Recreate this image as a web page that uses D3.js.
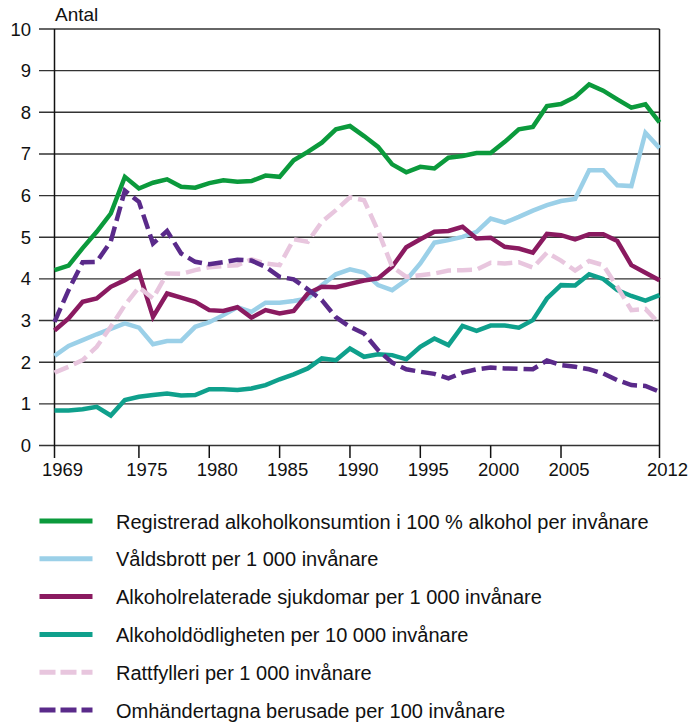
<!DOCTYPE html>
<html>
<head>
<meta charset="utf-8">
<script src="https://cdn.jsdelivr.net/npm/d3@7"></script>
<style>
  body { margin: 0; background: #fff; }
  text { font-family: "Liberation Sans", Arial, Helvetica, sans-serif; fill: #111; }
</style>
</head>
<body>
<script>
// years 1969-2012
var years = d3.range(1969, 2013);

// Registrerad alkoholkonsumtion i 100 % alkohol per invånare
var konsumtion = [4.21, 4.32, 4.74, 5.13, 5.57, 6.45, 6.17, 6.31, 6.39, 6.21, 6.19, 6.30, 6.37, 6.33,
  6.35, 6.48, 6.45, 6.85, 7.05, 7.27, 7.59, 7.67, 7.43, 7.17, 6.75, 6.56, 6.69, 6.65, 6.91, 6.95,
  7.02, 7.02, 7.29, 7.59, 7.65, 8.15, 8.20, 8.37, 8.67, 8.52, 8.31, 8.11, 8.19, 7.76];
// Våldsbrott per 1 000 invånare
var valdsbrott = [2.15, 2.39, 2.53, 2.67, 2.80, 2.93, 2.83, 2.43, 2.51, 2.51, 2.85, 2.96, 3.13, 3.32,
  3.21, 3.43, 3.43, 3.47, 3.53, 3.85, 4.11, 4.23, 4.15, 3.85, 3.73, 3.97, 4.37, 4.87, 4.93, 5.01,
  5.13, 5.45, 5.35, 5.49, 5.64, 5.77, 5.87, 5.92, 6.61, 6.61, 6.25, 6.23, 7.51, 7.14];
// Alkoholrelaterade sjukdomar per 1 000 invånare
var sjukdomar = [2.76, 3.05, 3.45, 3.53, 3.81, 3.97, 4.17, 3.09, 3.65, 3.55, 3.45, 3.25, 3.23, 3.32,
  3.07, 3.25, 3.17, 3.23, 3.65, 3.81, 3.80, 3.88, 3.96, 4.01, 4.29, 4.76, 4.95, 5.13, 5.15, 5.25,
  4.97, 4.99, 4.77, 4.73, 4.63, 5.08, 5.05, 4.95, 5.07, 5.07, 4.91, 4.33, 4.15, 3.97];
// Alkoholdödligheten per 10 000 invånare
var dodlighet = [0.84, 0.84, 0.87, 0.93, 0.72, 1.09, 1.17, 1.21, 1.25, 1.20, 1.21, 1.35, 1.35, 1.33,
  1.37, 1.45, 1.59, 1.71, 1.85, 2.09, 2.05, 2.33, 2.13, 2.19, 2.17, 2.07, 2.37, 2.57, 2.41, 2.87,
  2.75, 2.88, 2.88, 2.83, 3.01, 3.53, 3.85, 3.84, 4.11, 4.00, 3.73, 3.59, 3.48, 3.61];
// Rattfylleri per 1 000 invånare
var rattfylleri = [1.75, 1.89, 2.05, 2.37, 2.85, 3.37, 3.80, 3.53, 4.13, 4.12, 4.21, 4.28, 4.31, 4.33,
  4.47, 4.37, 4.33, 4.95, 4.89, 5.37, 5.65, 5.96, 5.89, 5.15, 4.29, 4.05, 4.09, 4.13, 4.20, 4.21,
  4.22, 4.39, 4.37, 4.40, 4.27, 4.63, 4.44, 4.20, 4.43, 4.33, 3.81, 3.25, 3.28, 2.92];
// Omhändertagna berusade per 100 invånare
var omhandertagna = [2.97, 3.73, 4.40, 4.41, 4.90, 6.12, 5.85, 4.85, 5.15, 4.61, 4.41, 4.35, 4.40, 4.46,
  4.44, 4.29, 4.05, 3.99, 3.75, 3.49, 3.08, 2.85, 2.69, 2.29, 1.99, 1.83, 1.77, 1.72, 1.61, 1.75,
  1.83, 1.87, 1.85, 1.84, 1.83, 2.04, 1.93, 1.89, 1.83, 1.73, 1.57, 1.45, 1.43, 1.29];

var xTicks = [1969, 1975, 1980, 1985, 1990, 1995, 2000, 2005, 2012];
var yTicks = [0, 1, 2, 3, 4, 5, 6, 7, 8, 9, 10];

var seriesNames = ["Registrerad alkoholkonsumtion i 100 % alkohol per invånare",
  "Våldsbrott per 1 000 invånare",
  "Alkoholrelaterade sjukdomar per 1 000 invånare",
  "Alkoholdödligheten per 10 000 invånare",
  "Rattfylleri per 1 000 invånare",
  "Omhändertagna berusade per 100 invånare"];
var seriesValues = [konsumtion, valdsbrott, sjukdomar, dodlighet, rattfylleri, omhandertagna];
var seriesColors = ["#0b9a3c", "#9bd0e8", "#8a1a60", "#0fa08c", "#e8c6de", "#5a2a8a"];
var seriesDashed = [false, false, false, false, true, true];

var w = 691, h = 725;
var svg = d3.select("body").append("svg")
  .attr("width", w)
  .attr("height", h);

var x = d3.scaleLinear().domain([1969, 2012]).range([54.5, 659.5]);
var y = d3.scaleLinear().domain([0, 10]).range([445.5, 29]);

// grid lines + y ticks
svg.append("g").selectAll("line")
  .data(yTicks)
  .enter().append("line")
  .attr("x1", 39)
  .attr("x2", x(2012))
  .attr("y1", function(d){ return y(d); })
  .attr("y2", function(d){ return y(d); })
  .style("stroke", "#333")
  .style("stroke-width", 1.4);

svg.append("g").selectAll("text")
  .data(yTicks)
  .enter().append("text")
  .attr("x", 31)
  .attr("y", function(d){ return y(d) + 6.5; })
  .attr("text-anchor", "end")
  .style("font-size", "18.5px")
  .text(function(d){ return d; });

svg.append("text")
  .attr("x", 55)
  .attr("y", 21)
  .style("font-size", "19px")
  .text("Antal");

// x ticks (the axis ends double as ticks)
svg.append("g").selectAll("line")
  .data(xTicks)
  .enter().append("line")
  .attr("x1", function(d){ return x(d); })
  .attr("x2", function(d){ return x(d); })
  .attr("y1", function(d){ return (d === 1969 || d === 2012) ? y(10) : y(0); })
  .attr("y2", 458)
  .style("stroke", "#111")
  .style("stroke-width", 1.5);

svg.append("g").selectAll("text")
  .data(xTicks)
  .enter().append("text")
  .attr("x", function(d){ return x(d) + 8; })
  .attr("y", 476)
  .attr("text-anchor", "middle")
  .style("font-size", "18.5px")
  .text(function(d){ return d; });

// series lines
var line = d3.line()
  .x(function(d, i){ return x(years[i]); })
  .y(function(d){ return y(d); });

svg.append("g").selectAll("path")
  .data(seriesValues)
  .enter().append("path")
  .attr("d", function(d){ return line(d); })
  .style("fill", "none")
  .style("stroke", function(d, i){ return seriesColors[i]; })
  .style("stroke-width", 4.5)
  .style("stroke-linejoin", "miter")
  .style("stroke-dasharray", function(d, i){ return seriesDashed[i] ? "15,6" : null; });

// legend
var legend = svg.append("g").selectAll("g")
  .data(seriesNames)
  .enter().append("g")
  .attr("transform", function(d, i){ return "translate(0," + (521 + i * 37.8) + ")"; });

legend.append("line")
  .attr("x1", 39.5)
  .attr("x2", 92.5)
  .style("stroke", function(d, i){ return seriesColors[i]; })
  .style("stroke-width", 5)
  .style("stroke-dasharray", function(d, i){ return seriesDashed[i] ? "16,5" : null; });

legend.append("text")
  .attr("x", 116)
  .attr("y", 7.5)
  .style("font-size", "20px")
  .text(function(d){ return d; });
</script>
</body>
</html>
